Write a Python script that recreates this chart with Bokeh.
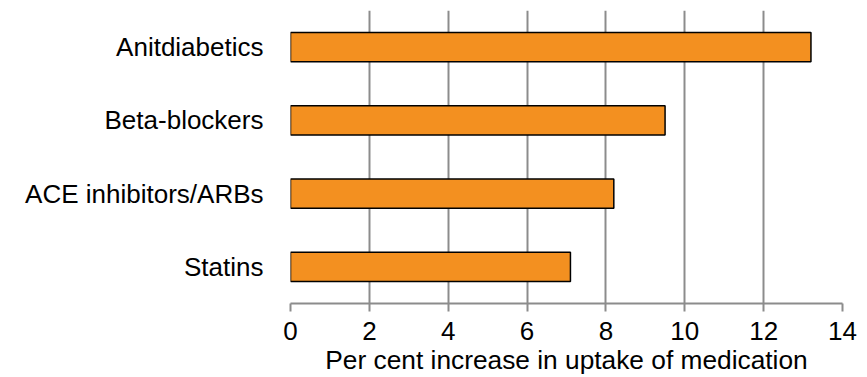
from bokeh.plotting import figure
from bokeh.models import FactorRange, Range1d, FixedTicker
from bokeh.embed import file_html
from bokeh.resources import INLINE

categories = ["Anitdiabetics", "Beta-blockers", "ACE inhibitors/ARBs", "Statins"]
values = [13.2, 9.5, 8.2, 7.1]
x_ticks = [0, 2, 4, 6, 8, 10, 12, 14]

factors = list(reversed(categories))
p = figure(width=867, height=377, y_range=FactorRange(*factors, range_padding=0),
           x_range=Range1d(0, 14), output_backend="svg", toolbar_location=None,
           min_border_left=290, min_border_right=25, min_border_top=10, min_border_bottom=72)
p.outline_line_color = None
p.hbar(y=categories, right=values, left=0, height=0.4, fill_color="#F39020",
       line_color="black", line_width=1.5)

p.xaxis.ticker = FixedTicker(ticks=x_ticks)
p.xaxis.axis_line_color = "#8c8c8c"
p.xaxis.axis_line_width = 2
p.xaxis.major_tick_line_color = "#8c8c8c"
p.xaxis.major_tick_line_width = 2
p.xaxis.major_tick_out = 8
p.xaxis.major_tick_in = 0
p.xaxis.minor_tick_line_color = None
p.xaxis.major_label_text_font = "Liberation Sans"
p.xaxis.major_label_text_font_size = "26px"
p.xaxis.major_label_text_color = "black"
p.xaxis.major_label_standoff = 10
p.xaxis.axis_label = "Per cent increase in uptake of medication"
p.xaxis.axis_label_text_font = "Liberation Sans"
p.xaxis.axis_label_text_font_size = "26.3px"
p.xaxis.axis_label_text_font_style = "normal"
p.xaxis.axis_label_text_color = "black"
p.xaxis.axis_label_standoff = 2

p.yaxis.axis_line_color = None
p.yaxis.major_tick_line_color = None
p.yaxis.minor_tick_line_color = None
p.yaxis.major_label_text_font = "Liberation Sans"
p.yaxis.major_label_text_font_size = "26px"
p.yaxis.major_label_text_color = "black"
p.yaxis.major_label_standoff = 21

p.xgrid.grid_line_color = "#8c8c8c"
p.xgrid.grid_line_width = 2
p.ygrid.grid_line_color = None

open("out.html", "w").write(file_html(p, INLINE))
